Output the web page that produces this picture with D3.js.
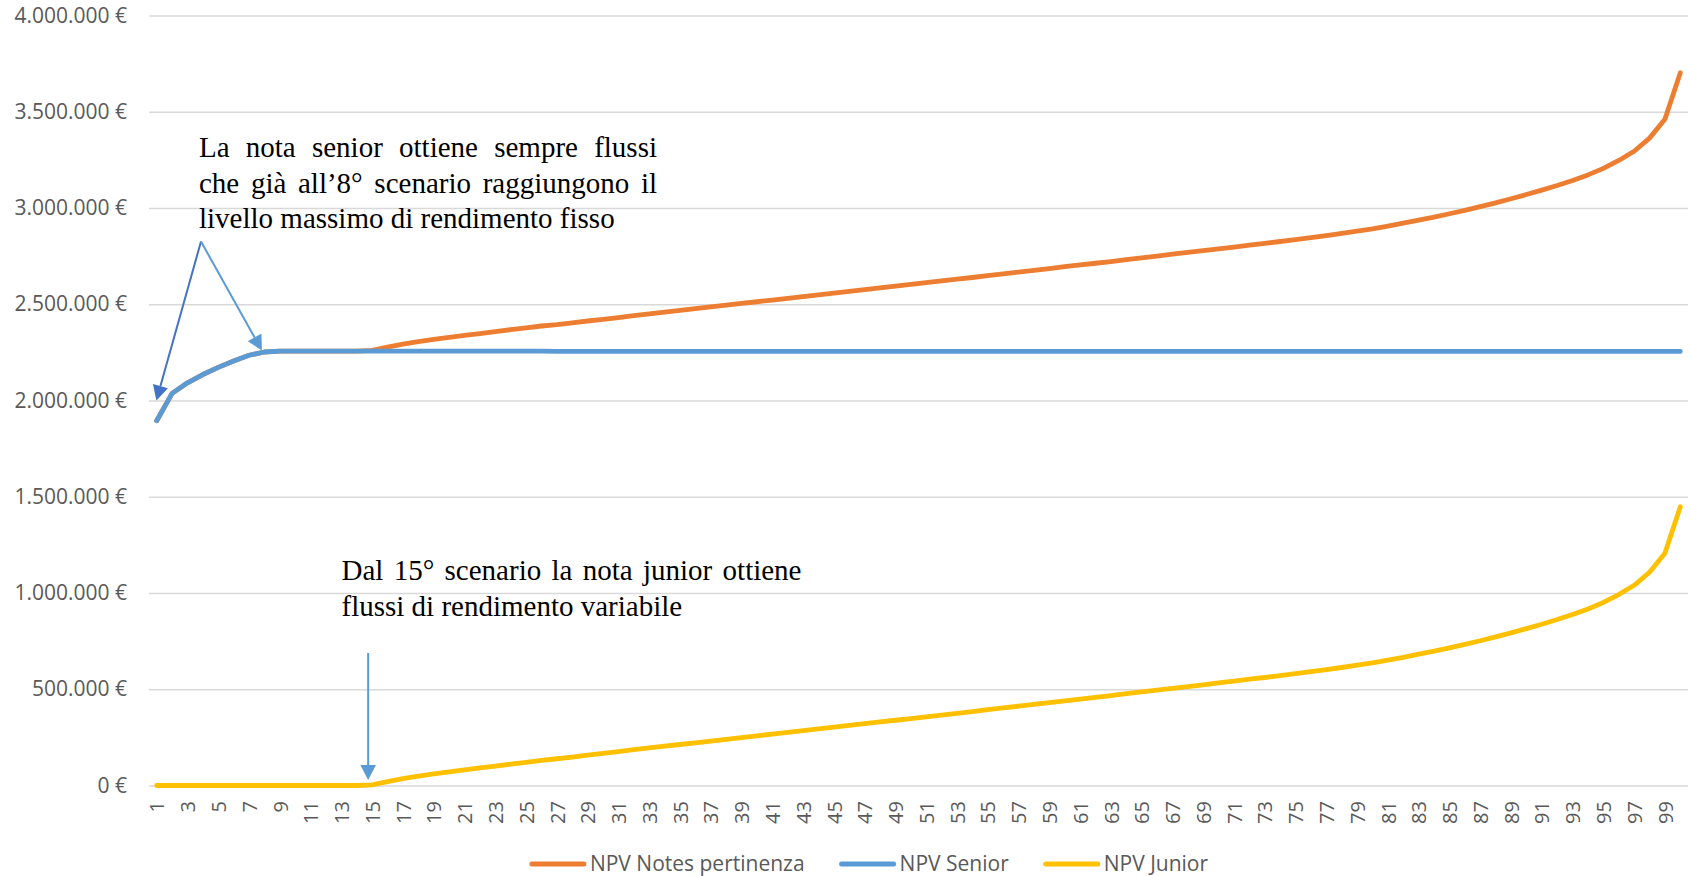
<!DOCTYPE html>
<html>
<head>
<meta charset="utf-8">
<script src="https://cdn.jsdelivr.net/npm/d3@7/dist/d3.min.js"></script>
<style>
  html, body { margin: 0; padding: 0; background: #ffffff; }
  svg { display: block; }
</style>
</head>
<body>
<svg id="chart" width="1690" height="876"></svg>
<script>
// Scenario numbers (x categories)
const scenarios = [
  1,2,3,4,5,6,7,8,9,10,11,12,13,14,15,16,17,18,19,20,
  21,22,23,24,25,26,27,28,29,30,31,32,33,34,35,36,37,38,39,40,
  41,42,43,44,45,46,47,48,49,50,51,52,53,54,55,56,57,58,59,60,
  61,62,63,64,65,66,67,68,69,70,71,72,73,74,75,76,77,78,79,80,
  81,82,83,84,85,86,87,88,89,90,91,92,93,94,95,96,97,98,99,100
];

// NPV Notes pertinenza (total)
const npvNotes = [
  1895000,2037000,2092000,2135000,2172000,2205000,2235000,2252000,2257000,2257000,
  2257000,2257000,2257000,2257000,2260000,2277000,2293000,2306000,2317000,2328000,
  2338000,2348000,2358000,2368000,2377000,2387000,2394000,2403000,2413000,2422000,
  2431000,2441000,2450000,2459000,2468000,2477000,2486000,2495000,2504000,2513000,
  2522000,2531000,2540000,2549000,2558000,2567000,2576000,2585000,2594000,2603000,
  2612000,2621000,2630000,2639000,2649000,2658000,2667000,2676000,2685000,2695000,
  2704000,2713000,2722000,2732000,2741000,2750000,2760000,2769000,2778000,2788000,
  2797000,2807000,2816000,2826000,2836000,2846000,2857000,2868000,2880000,2892000,
  2906000,2921000,2937000,2953000,2970000,2988000,3007000,3027000,3048000,3070000,
  3093000,3117000,3143000,3172000,3206000,3247000,3295000,3363000,3461000,3703000
];

// NPV Senior
const npvSenior = [
  1895000,2037000,2092000,2135000,2172000,2205000,2235000,2252000,2257000,2257000,
  2257000,2257000,2257000,2257000,2257000,2257000,2257000,2257000,2257000,2257000,
  2257000,2257000,2257000,2257000,2257000,2257000,2255000,2255000,2255000,2255000,
  2255000,2255000,2255000,2255000,2255000,2255000,2255000,2255000,2255000,2255000,
  2255000,2255000,2255000,2255000,2255000,2255000,2255000,2255000,2255000,2255000,
  2255000,2255000,2255000,2255000,2255000,2255000,2255000,2255000,2255000,2255000,
  2255000,2255000,2255000,2255000,2255000,2255000,2255000,2255000,2255000,2255000,
  2255000,2255000,2255000,2255000,2255000,2255000,2255000,2255000,2255000,2255000,
  2255000,2255000,2255000,2255000,2255000,2255000,2255000,2255000,2255000,2255000,
  2255000,2255000,2255000,2255000,2255000,2255000,2255000,2255000,2255000,2255000
];

// NPV Junior
const npvJunior = [
  0,0,0,0,0,0,0,0,0,0,
  0,0,0,0,3000,20000,36000,49000,60000,71000,
  81000,91000,101000,111000,120000,130000,139000,148000,158000,167000,
  176000,186000,195000,204000,213000,222000,231000,240000,249000,258000,
  267000,276000,285000,294000,303000,312000,321000,330000,339000,348000,
  357000,366000,375000,384000,394000,403000,412000,421000,430000,440000,
  449000,458000,467000,477000,486000,495000,505000,514000,523000,533000,
  542000,552000,561000,571000,581000,591000,602000,613000,625000,637000,
  651000,666000,682000,698000,715000,733000,752000,772000,793000,815000,
  838000,862000,888000,917000,951000,992000,1040000,1108000,1206000,1448000
];

const seriesNames = ["NPV Notes pertinenza", "NPV Senior", "NPV Junior"];
const seriesColors = ["#ED7D31", "#5B9BD5", "#FFC000"];
const yTicks = [0, 500000, 1000000, 1500000, 2000000, 2500000, 3000000, 3500000, 4000000];
const xTickLabels = scenarios.filter(d => d % 2 === 1);

const annotationSenior = [
  "La nota senior ottiene sempre flussi",
  "che già all’8° scenario raggiungono il",
  "livello massimo di rendimento fisso"
];
const annotationJunior = [
  "Dal 15° scenario la nota junior ottiene",
  "flussi di rendimento variabile"
];

// ---- layout ----
const W = 1690, H = 876;
const plot = { left: 149, right: 1688, top: 15.5, bottom: 785.5 };
const axisFont = "'Open Sans', 'Noto Sans', sans-serif";
const serifFont = "'Liberation Serif', 'Times New Roman', serif";
const labelGrey = "#595959";

const svg = d3.select("#chart");
svg.append("rect").attr("width", W).attr("height", H).attr("fill", "#ffffff");

const x = d3.scalePoint().domain(scenarios).range([plot.left, plot.right]).padding(0.5);
const y = d3.scaleLinear().domain([0, 4000000]).range([plot.bottom, plot.top]);

const itLocale = d3.formatLocale({ decimal: ",", thousands: ".", grouping: [3], currency: ["", " €"] });
const fmtEuro = v => itLocale.format(",.0f")(v) + " €";

// y axis with horizontal gridlines
const yAxis = svg.append("g")
  .attr("transform", `translate(${plot.left},0)`)
  .call(d3.axisLeft(y).tickValues(yTicks).tickFormat(fmtEuro)
    .tickSize(-(plot.right - plot.left)).tickPadding(22));
yAxis.select(".domain").remove();
yAxis.selectAll(".tick line").attr("stroke", "#D9D9D9").attr("stroke-width", 1.4);
yAxis.selectAll(".tick text")
  .attr("fill", labelGrey).attr("font-family", axisFont).attr("font-size", 21);

// x axis: odd scenario labels, rotated
const xAxis = svg.append("g")
  .attr("transform", `translate(0,${plot.bottom})`)
  .call(d3.axisBottom(x).tickValues(xTickLabels).tickSize(0));
xAxis.select(".domain").remove();
xAxis.selectAll(".tick text")
  .attr("fill", labelGrey).attr("font-family", axisFont).attr("font-size", 20)
  .attr("transform", "rotate(-90)")
  .attr("text-anchor", "end")
  .attr("x", -15.5).attr("y", 0).attr("dy", "0.36em");

// series lines
const seriesData = [npvNotes, npvSenior, npvJunior];
const line = d3.line().x((d, i) => x(scenarios[i])).y(d => y(d));
svg.append("g").selectAll("path")
  .data(seriesData)
  .join("path")
  .attr("d", d => line(d))
  .attr("fill", "none")
  .attr("stroke", (d, i) => seriesColors[i])
  .attr("stroke-width", 4.8)
  .attr("stroke-linejoin", "round")
  .attr("stroke-linecap", "round");

// legend
const legend = svg.append("g").attr("font-family", axisFont).attr("font-size", 21).attr("fill", labelGrey);
const legendY = 864;
let lx = 0;
seriesNames.forEach((name, i) => {
  const g = legend.append("g");
  g.append("line").attr("x1", 0).attr("x2", 52).attr("y1", legendY).attr("y2", legendY)
    .attr("stroke", seriesColors[i]).attr("stroke-width", 5).attr("stroke-linecap", "round");
  const t = g.append("text").attr("x", 58).attr("y", legendY).attr("dy", "0.35em").text(name);
  const w = 58 + t.node().getComputedTextLength();
  g.attr("transform", `translate(${lx},0)`);
  lx += w + 37;
});
const legendWidth = lx - 37;
legend.attr("transform", `translate(${870 - legendWidth / 2},0)`);

// annotations: justified serif paragraphs
function paragraph(lines, x0, width, baseline0, lineHeight, justifyCount) {
  const g = svg.append("g").attr("font-family", serifFont).attr("font-size", 29).attr("fill", "#000000");
  lines.forEach((ln, li) => {
    const by = baseline0 + li * lineHeight;
    if (li < justifyCount) {
      const words = ln.split(" ");
      const nodes = words.map(w => g.append("text").attr("y", by).text(w));
      const widths = nodes.map(n => n.node().getComputedTextLength());
      const gap = (width - d3.sum(widths)) / (words.length - 1);
      let cx = x0;
      nodes.forEach((n, k) => { n.attr("x", cx); cx += widths[k] + gap; });
    } else {
      g.append("text").attr("x", x0).attr("y", by).text(ln);
    }
  });
}
paragraph(annotationSenior, 199, 458, 156.7, 35.8, 2);
paragraph(annotationJunior, 341.5, 460, 580, 35.5, 1);

// arrows
function arrow(from, to, color) {
  const dx = to[0] - from[0], dy = to[1] - from[1];
  const len = Math.hypot(dx, dy), ux = dx / len, uy = dy / len;
  const headL = 15, headW = 7.8;
  const bx = to[0] - ux * headL, by = to[1] - uy * headL;
  svg.append("line")
    .attr("x1", from[0]).attr("y1", from[1]).attr("x2", bx).attr("y2", by)
    .attr("stroke", color).attr("stroke-width", 2);
  svg.append("path")
    .attr("d", `M${to[0]},${to[1]}L${bx - uy * headW},${by + ux * headW}L${bx + uy * headW},${by - ux * headW}Z`)
    .attr("fill", color);
}
const apex = [201, 241.5];
arrow(apex, [x(1) - 0.3, y(2000000)], "#4472C4");
arrow(apex, [x(8) - 2.5, y(npvSenior[7]) - 1.5], "#5B9BD5");
arrow([x(15) - 4, 653], [x(15) - 4, y(0) - 5.5], "#5B9BD5");
</script>
</body>
</html>
